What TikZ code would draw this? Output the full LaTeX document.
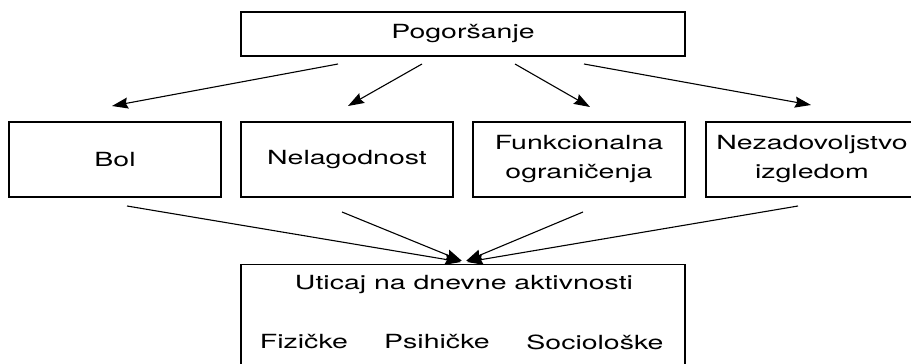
\documentclass[tikz,border=0pt]{standalone}
\usepackage{fontspec}
\setmainfont{TeX Gyre Heros}[FakeStretch=1.46]
\usetikzlibrary{arrows.meta}
\begin{document}
\begin{tikzpicture}[x=1pt,y=-1pt,
  box/.style={draw=black,line width=1.1pt,fill=white,minimum width=212pt,minimum height=75pt,
    inner sep=0pt,align=center,font=\fontsize{19.5}{29}\selectfont},
  wide/.style={box,minimum width=444pt},
  lbl/.style={inner sep=0pt,font=\fontsize{19.5}{29}\selectfont},
  link/.style={line width=1.1pt,-{Stealth[length=16pt,width=11pt,inset=2pt]}}]
\useasboundingbox (0,0) rectangle (911,364);
\clip (0,0) rectangle (911,364);

% top cause
\node[wide,minimum height=44pt] (top) at (463,34) {Pogoršanje};

% four consequences
\node[box] (bol) at (115,159.5) {Bol};
\node[box] (nel) at (347,159.5) {Nelagodnost};
\node[box] (fun) at (579,159.5) {Funkcionalna\\ograničenja};
\node[box] (nez) at (812,159.5) {Nezadovoljstvo\\izgledom};

% impact on daily activities
\node[wide,minimum height=130pt,anchor=north] (act) at (463,264) {};
\node[lbl] (actT) at (464,285) {Uticaj na dnevne aktivnosti};
\node[lbl] (fiz) at (304,342) {Fizičke};
\node[lbl] (psi) at (437,342) {Psihičke};
\node[lbl] (soc) at (595,342) {Sociološke};

% connector end points
\coordinate (t1) at (338,64);  \coordinate (h1) at (112,106);
\coordinate (t2) at (422,64);  \coordinate (h2) at (348,106);
\coordinate (t3) at (515,64);  \coordinate (h3) at (590,107);
\coordinate (t4) at (584,64);  \coordinate (h4) at (811,105);

\coordinate (b1) at (127,206); \coordinate (e1) at (461,262);
\coordinate (b2) at (342,212); \coordinate (e2) at (462,261);
\coordinate (b3) at (583,212); \coordinate (e3) at (466,261);
\coordinate (b4) at (798,206); \coordinate (e4) at (467,262);

\draw[link] (t1) -- (h1);
\draw[link] (t2) -- (h2);
\draw[link] (t3) -- (h3);
\draw[link] (t4) -- (h4);

\draw[link] (b1) -- (e1);
\draw[link] (b2) -- (e2);
\draw[link] (b3) -- (e3);
\draw[link] (b4) -- (e4);
\end{tikzpicture}
\end{document}
